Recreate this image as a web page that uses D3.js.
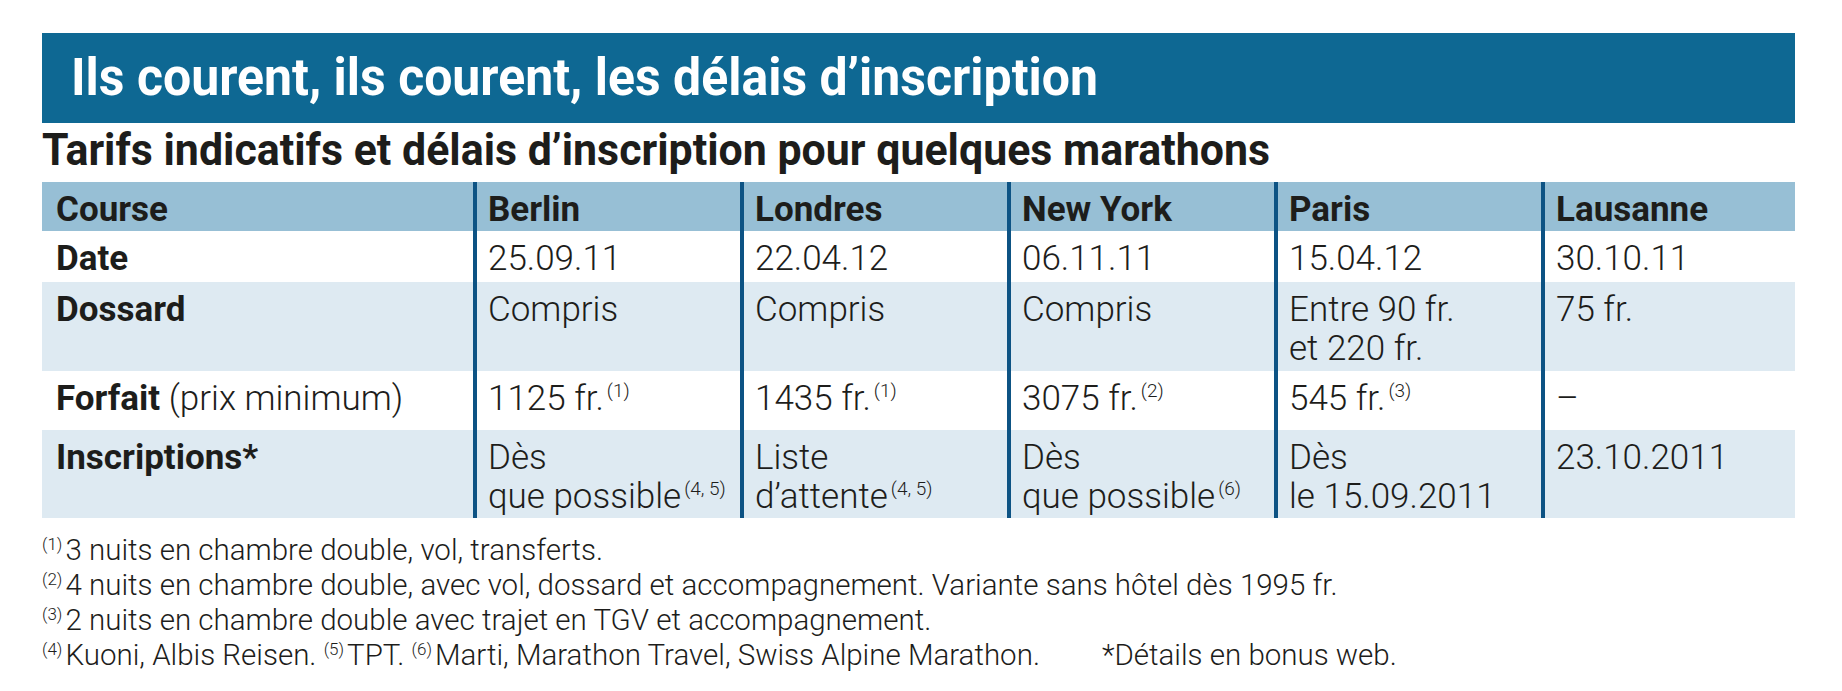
<!DOCTYPE html>
<html>
<head>
<meta charset="utf-8">
<script src="https://cdn.jsdelivr.net/npm/d3@7"></script>
<style>
  body { margin: 0; background: #fff; }
  text { font-family: Roboto, "Open Sans", sans-serif; }
</style>
</head>
<body>
<div id="chart"></div>
<script>
// colours
const BAR_COLOR = "#0e6893";
const HEAD_COLOR = "#97bfd5";
const LIGHT_ROW = "#deeaf2";
const LINE_COLOR = "#0d5384";
const TEXT_COLOR = "#1d1d1b";

const W = 1842, H = 691;

// data
const title = "Ils courent, ils courent, les délais d’inscription";
const subtitle = "Tarifs indicatifs et délais d’inscription pour quelques marathons";
const courses = ["Berlin", "Londres", "New York", "Paris", "Lausanne"];
const dates = ["25.09.11", "22.04.12", "06.11.11", "15.04.12", "30.10.11"];
const dossards = [["Compris"], ["Compris"], ["Compris"], ["Entre 90 fr.", "et 220 fr."], ["75 fr."]];
const forfaits = ["1125 fr.", "1435 fr.", "3075 fr.", "545 fr.", "–"];
const forfaitNotes = ["(1)", "(1)", "(2)", "(3)", ""];
const inscriptions = [["Dès", "que possible"], ["Liste", "d’attente"], ["Dès", "que possible"], ["Dès", "le 15.09.2011"], ["23.10.2011"]];
const inscriptionNotes = ["(4, 5)", "(4, 5)", "(6)", "", ""];
const footnotes = [
    [["(1)", "3 nuits en chambre double, vol, transferts."]],
    [["(2)", "4 nuits en chambre double, avec vol, dossard et accompagnement. Variante sans hôtel dès 1995 fr."]],
    [["(3)", "2 nuits en chambre double avec trajet en TGV et accompagnement."]],
    [["(4)", "Kuoni, Albis Reisen. "], ["(5)", "TPT. "], ["(6)", "Marti, Marathon Travel, Swiss Alpine Marathon."], ["", "*Détails en bonus web."]]
];

// table rows
const rows = [
    { label: "Course", cells: courses.map(d => [d]), bold: true, fill: HEAD_COLOR, h: 49 },
    { label: "Date", cells: dates.map(d => [d]), fill: "#fff", h: 51 },
    { label: "Dossard", cells: dossards, fill: LIGHT_ROW, h: 89 },
    { label: "Forfait", extra: " (prix minimum)", cells: forfaits.map(d => [d]), notes: forfaitNotes, fill: "#fff", h: 59 },
    { label: "Inscriptions*", cells: inscriptions, notes: inscriptionNotes, fill: LIGHT_ROW, h: 88 }
];

const left = 42, right = 1795, tableTop = 182;
let acc = tableTop;
rows.forEach(r => { r.y = acc; acc += r.h; });
const tableBottom = acc;

const xScale = d3.scaleBand()
    .domain(courses)
    .range([475, 475 + 267 * courses.length]);

const svg = d3.select("#chart")
    .append("svg")
    .attr("width", W)
    .attr("height", H);

// title bar
svg.append("rect")
    .attr("x", left).attr("y", 33)
    .attr("width", right - left).attr("height", 90)
    .attr("fill", BAR_COLOR);

svg.append("text")
    .attr("x", 71).attr("y", 95)
    .attr("fill", "#fff")
    .attr("font-size", 51)
    .attr("font-weight", 700)
    .attr("textLength", 1027)
    .attr("lengthAdjust", "spacingAndGlyphs")
    .text(title);

svg.append("text")
    .attr("x", left).attr("y", 165)
    .attr("fill", TEXT_COLOR)
    .attr("font-size", 44)
    .attr("font-weight", 700)
    .attr("textLength", 1228)
    .attr("lengthAdjust", "spacingAndGlyphs")
    .text(subtitle);

// row backgrounds
svg.selectAll(".rowbg")
    .data(rows)
    .enter()
    .append("rect")
    .attr("class", "rowbg")
    .attr("x", left).attr("y", d => d.y)
    .attr("width", right - left).attr("height", d => d.h)
    .attr("fill", d => d.fill);

// row labels
const labels = svg.selectAll(".label")
    .data(rows)
    .enter()
    .append("text")
    .attr("class", "label")
    .attr("x", 56)
    .attr("y", d => d.y + 39)
    .attr("font-size", 35)
    .attr("fill", TEXT_COLOR);
labels.append("tspan").attr("font-weight", 700).text(d => d.label);
labels.append("tspan").attr("font-weight", 300).text(d => d.extra || "");

// cells
rows.forEach(r => {
    const g = svg.append("g");
    const cell = g.selectAll("text")
        .data(courses)
        .enter()
        .append("text")
        .attr("x", d => xScale(d) + 13)
        .attr("y", r.y + 39)
        .attr("font-size", 35)
        .attr("font-weight", r.bold ? 700 : 300)
        .attr("fill", TEXT_COLOR);
    cell.each(function (d, i) {
        const t = d3.select(this);
        const lines = r.cells[i];
        lines.forEach((line, j) => {
            const ts = t.append("tspan").text(line);
            if (j > 0) ts.attr("x", xScale(d) + 13).attr("dy", 39);
        });
        const note = r.notes ? r.notes[i] : "";
        if (note) {
            t.append("tspan")
                .attr("dx", 3).attr("dy", -13)
                .attr("font-size", 19)
                .text(note);
        }
    });
});

// column separators
svg.selectAll(".sep")
    .data(courses)
    .enter()
    .append("line")
    .attr("class", "sep")
    .attr("x1", d => xScale(d)).attr("x2", d => xScale(d))
    .attr("y1", tableTop).attr("y2", tableBottom)
    .attr("stroke", LINE_COLOR)
    .attr("stroke-width", 4);

// footnotes
const fn = svg.selectAll(".fn")
    .data(footnotes)
    .enter()
    .append("text")
    .attr("class", "fn")
    .attr("x", 42)
    .attr("y", (d, i) => 560 + i * 35)
    .attr("font-size", 29.5)
    .attr("font-weight", 300)
    .attr("fill", TEXT_COLOR);
fn.each(function (parts) {
    const t = d3.select(this);
    parts.forEach(p => {
        if (p[0]) {
            t.append("tspan").attr("font-size", 17).attr("dy", -10).text(p[0]);
            t.append("tspan").attr("dy", 10).attr("dx", 3).text(p[1]);
        } else {
            t.append("tspan").attr("dx", 62).text(p[1]);
        }
    });
});
</script>
</body>
</html>
